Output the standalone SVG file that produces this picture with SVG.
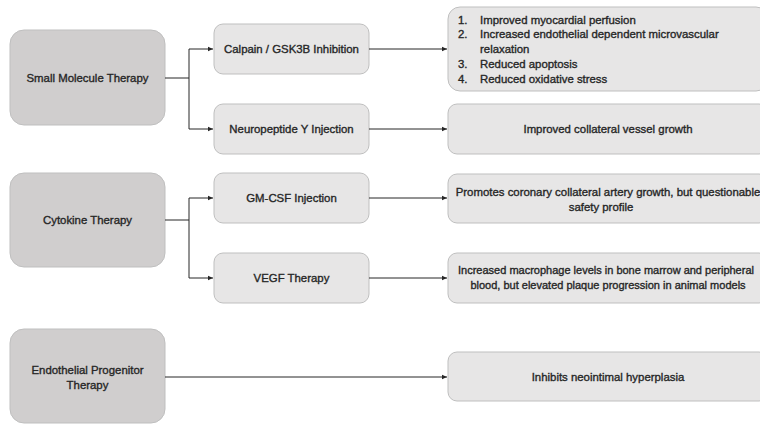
<svg xmlns="http://www.w3.org/2000/svg" width="760" height="424" viewBox="0 0 760 424">
<defs>
<marker id="ah" markerWidth="6" markerHeight="6" refX="5" refY="3" orient="auto" markerUnits="userSpaceOnUse">
<path d="M0,0.8 L5,3 L0,5.2 Z" fill="#262626"/>
</marker>
</defs>
<style>
.main{fill:#d0cece;stroke:#bfbfbf;stroke-width:1}
.sub{fill:#e7e6e6;stroke:#bfbfbf;stroke-width:1}
text{font-family:"Liberation Sans",Arial,sans-serif;font-size:11.4px;fill:#262626;stroke:#262626;stroke-width:0.35px}
.c{text-anchor:middle}
.s{font-size:11px}
.ln{fill:none;stroke:#262626;stroke-width:1}
</style>
<rect width="760" height="424" fill="#ffffff"/>
<g id="n-small"><rect class="main" x="10" y="30" width="155" height="95" rx="14"/><text class="c" x="87.5" y="81.5">Small Molecule Therapy</text></g>
<g id="n-cytokine"><rect class="main" x="10" y="173" width="155" height="94" rx="14"/><text class="c" x="87.5" y="224">Cytokine Therapy</text></g>
<g id="n-epc"><rect class="main" x="10" y="329" width="155" height="94" rx="14"/><text class="c" x="87.5" y="373.5">Endothelial Progenitor</text><text class="c" x="87.5" y="389">Therapy</text></g>
<g id="n-calpain"><rect class="sub" x="214" y="24" width="155" height="50" rx="9"/><text class="c" x="291.5" y="53">Calpain / GSK3B Inhibition</text></g>
<g id="n-npy"><rect class="sub" x="214" y="104" width="155" height="50" rx="9"/><text class="c" x="291.5" y="133">Neuropeptide Y Injection</text></g>
<g id="n-gmcsf"><rect class="sub" x="214" y="173" width="155" height="50" rx="9"/><text class="c" x="291.5" y="202">GM-CSF Injection</text></g>
<g id="n-vegf"><rect class="sub" x="214" y="253" width="155" height="50" rx="9"/><text class="c" x="291.5" y="282">VEGF Therapy</text></g>
<g id="r-calpain"><rect class="sub" x="448" y="7" width="320" height="84" rx="12"/>
<text x="458" y="24">1.</text><text x="480" y="24">Improved myocardial perfusion</text>
<text x="458" y="38">2.</text><text x="480" y="38">Increased endothelial dependent microvascular</text>
<text x="480" y="53">relaxation</text>
<text x="458" y="68">3.</text><text x="480" y="68">Reduced apoptosis</text>
<text x="458" y="83">4.</text><text x="480" y="83">Reduced oxidative stress</text></g>
<g id="r-npy"><rect class="sub" x="448" y="104" width="320" height="50" rx="9"/><text class="c" x="608" y="133">Improved collateral vessel growth</text></g>
<g id="r-gmcsf"><rect class="sub" x="448" y="174" width="320" height="49" rx="9"/><text class="c" x="608" y="196">Promotes coronary collateral artery growth, but questionable</text><text class="c" x="601" y="211">safety profile</text></g>
<g id="r-vegf"><rect class="sub" x="448" y="253" width="320" height="50" rx="9"/><text class="c s" x="606" y="274">Increased macrophage levels in bone marrow and peripheral</text><text class="c s" x="608" y="289">blood, but elevated plaque progression in animal models</text></g>
<g id="r-epc"><rect class="sub" x="448" y="352" width="320" height="49" rx="9"/><text class="c" x="608" y="380.5">Inhibits neointimal hyperplasia</text></g>
<g id="connectors">
<path class="ln" d="M165,78 H189 M189,49 V129"/>
<path class="ln" d="M189,49 H213" marker-end="url(#ah)"/>
<path class="ln" d="M189,129 H213" marker-end="url(#ah)"/>
<path class="ln" d="M369,49 H447" marker-end="url(#ah)"/>
<path class="ln" d="M369,129 H447" marker-end="url(#ah)"/>
<path class="ln" d="M165,220 H189 M189,198 V278"/>
<path class="ln" d="M189,198 H213" marker-end="url(#ah)"/>
<path class="ln" d="M189,278 H213" marker-end="url(#ah)"/>
<path class="ln" d="M369,198 H447" marker-end="url(#ah)"/>
<path class="ln" d="M369,278 H447" marker-end="url(#ah)"/>
<path class="ln" d="M165,377 H447" marker-end="url(#ah)"/>
</g>
</svg>
